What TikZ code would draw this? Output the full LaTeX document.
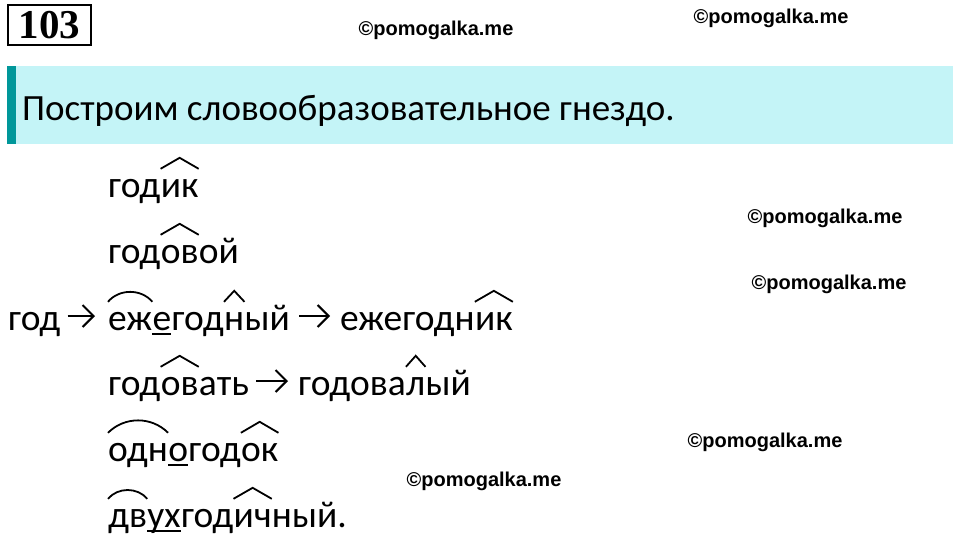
\documentclass[tikz,border=0pt]{standalone}
\usepackage{fontspec}
\setmainfont{Carlito}
\newfontfamily\markfont{Liberation Sans}
\newfontfamily\numfont{Liberation Serif}
\usetikzlibrary{arrows.meta}
\definecolor{bannercyan}{HTML}{C4F4F7}
\definecolor{bannerteal}{HTML}{00979A}
\tikzstyle{morph} = [inner sep=0pt, anchor=base west, font=\fontsize{37.5}{40}\selectfont, text height=28pt, text depth=8pt]
\tikzstyle{watermark} = [inner sep=0pt, font=\markfont\bfseries\fontsize{20}{22}\selectfont]
\tikzstyle{suffixmark} = [line width=1.8pt]
\tikzstyle{prefixmark} = [line width=1.8pt]
\tikzstyle{interfixmark} = [line width=1.8pt]
\tikzstyle{derive} = [line width=2pt, -{Straight Barb[length=11pt,width=22pt]}]

\begin{document}
\begin{tikzpicture}[x=1pt, y=-1pt]

        \useasboundingbox (0,0) rectangle (960,538);

        % banner
        \fill[bannercyan] (7,66) rectangle (953,144);
        \fill[bannerteal] (7,66) rectangle (16,144);
        \node (title) [anchor=base west, inner sep=0pt, font=\fontsize{37}{40}\selectfont] at (22,120) {Построим словообразовательное гнездо.};

        \node (num) [draw, line width=2.5pt, minimum width=83pt, minimum height=40pt, inner sep=0pt, font=\numfont\bfseries\fontsize{41}{40}\selectfont] at (49.5,25) {103};

        % watermarks
        \node (mark1) [watermark] at (436,30) {©pomogalka.me};
        \node (mark2) [watermark] at (771,18) {©pomogalka.me};
        \node (mark3) [watermark] at (825,218) {©pomogalka.me};
        \node (mark4) [watermark] at (829,284) {©pomogalka.me};
        \node (mark5) [watermark] at (765,442) {©pomogalka.me};
        \node (mark6) [watermark] at (484,481) {©pomogalka.me};

        % годик
        \node (gA) [morph] at (108,197) {год};
        \node (gB) [morph] at (gA.base east) {ик};
        \draw[suffixmark] (gB.north west) -- ([yshift=11pt]gB.north) -- (gB.north east);

        % годовой
        \node (goA) [morph] at (108,263) {год};
        \node (goB) [morph] at (goA.base east) {ов};
        \node (goC) [morph] at (goB.base east) {ой};
        \draw[suffixmark] (goB.north west) -- ([yshift=11pt]goB.north) -- (goB.north east);

        % год -> ежегодный -> ежегодник
        \node (root) [morph] at (8,330) {год};
        \node (ejA) [morph] at (108,330) {еж};
        \node (ejB) [morph] at (ejA.base east) {е};
        \node (ejC) [morph] at (ejB.base east) {год};
        \node (ejD) [morph] at (ejC.base east) {н};
        \node (ejE) [morph] at (ejD.base east) {ый};
        \node (ekA) [morph] at (340,330) {ежегодн};
        \node (ekB) [morph] at (ekA.base east) {ик};
        \draw[prefixmark] (ejA.north west) to[bend left=50] (ejA.north east);
        \draw[interfixmark] ([yshift=-4pt]ejB.base west) -- ([yshift=-4pt]ejB.base east);
        \draw[suffixmark] (ejD.north west) -- ([yshift=11pt]ejD.north) -- (ejD.north east);
        \draw[suffixmark] (ekB.north west) -- ([yshift=11pt]ekB.north) -- (ekB.north east);

        \draw[derive, shorten <=7pt, shorten >=13pt] ([yshift=14pt]root.base east) -- ([yshift=14pt]ejA.base west);
        \draw[derive, shorten <=9pt, shorten >=10pt] ([yshift=14pt]ejE.base east) -- ([yshift=14pt]ekA.base west);

        % годовать -> годовалый
        \node (gvA) [morph] at (108,395) {год};
        \node (gvB) [morph] at (gvA.base east) {ов};
        \node (gvC) [morph] at (gvB.base east) {ать};
        \node (glA) [morph] at (298,395) {годова};
        \node (glB) [morph] at (glA.base east) {л};
        \node (glC) [morph] at (glB.base east) {ый};
        \draw[suffixmark] (gvB.north west) -- ([yshift=11pt]gvB.north) -- (gvB.north east);
        \draw[suffixmark] (glB.north west) -- ([yshift=11pt]glB.north) -- (glB.north east);

        \draw[derive, shorten <=7pt, shorten >=10pt] ([yshift=14pt]gvC.base east) -- ([yshift=14pt]glA.base west);

        % одногодок
        \node (odA) [morph] at (108,461) {одн};
        \node (odB) [morph] at (odA.base east) {о};
        \node (odC) [morph] at (odB.base east) {год};
        \node (odD) [morph] at (odC.base east) {ок};
        \draw[prefixmark] (odA.north west) to[bend left=45] (odA.north east);
        \draw[interfixmark] ([yshift=-4pt]odB.base west) -- ([yshift=-4pt]odB.base east);
        \draw[suffixmark] (odD.north west) -- ([yshift=11pt]odD.north) -- (odD.north east);

        % двухгодичный.
        \node (dvA) [morph] at (108,527) {дв};
        \node (dvB) [morph] at (dvA.base east) {ух};
        \node (dvC) [morph] at (dvB.base east) {год};
        \node (dvD) [morph] at (dvC.base east) {ич};
        \node (dvE) [morph] at (dvD.base east) {ный.};
        \draw[prefixmark] (dvA.north west) to[bend left=50] (dvA.north east);
        \draw[interfixmark] ([yshift=-4pt]dvB.base west) -- ([yshift=-4pt]dvB.base east);
        \draw[suffixmark] (dvD.north west) -- ([yshift=11pt]dvD.north) -- (dvD.north east);

    \end{tikzpicture}
\end{document}
